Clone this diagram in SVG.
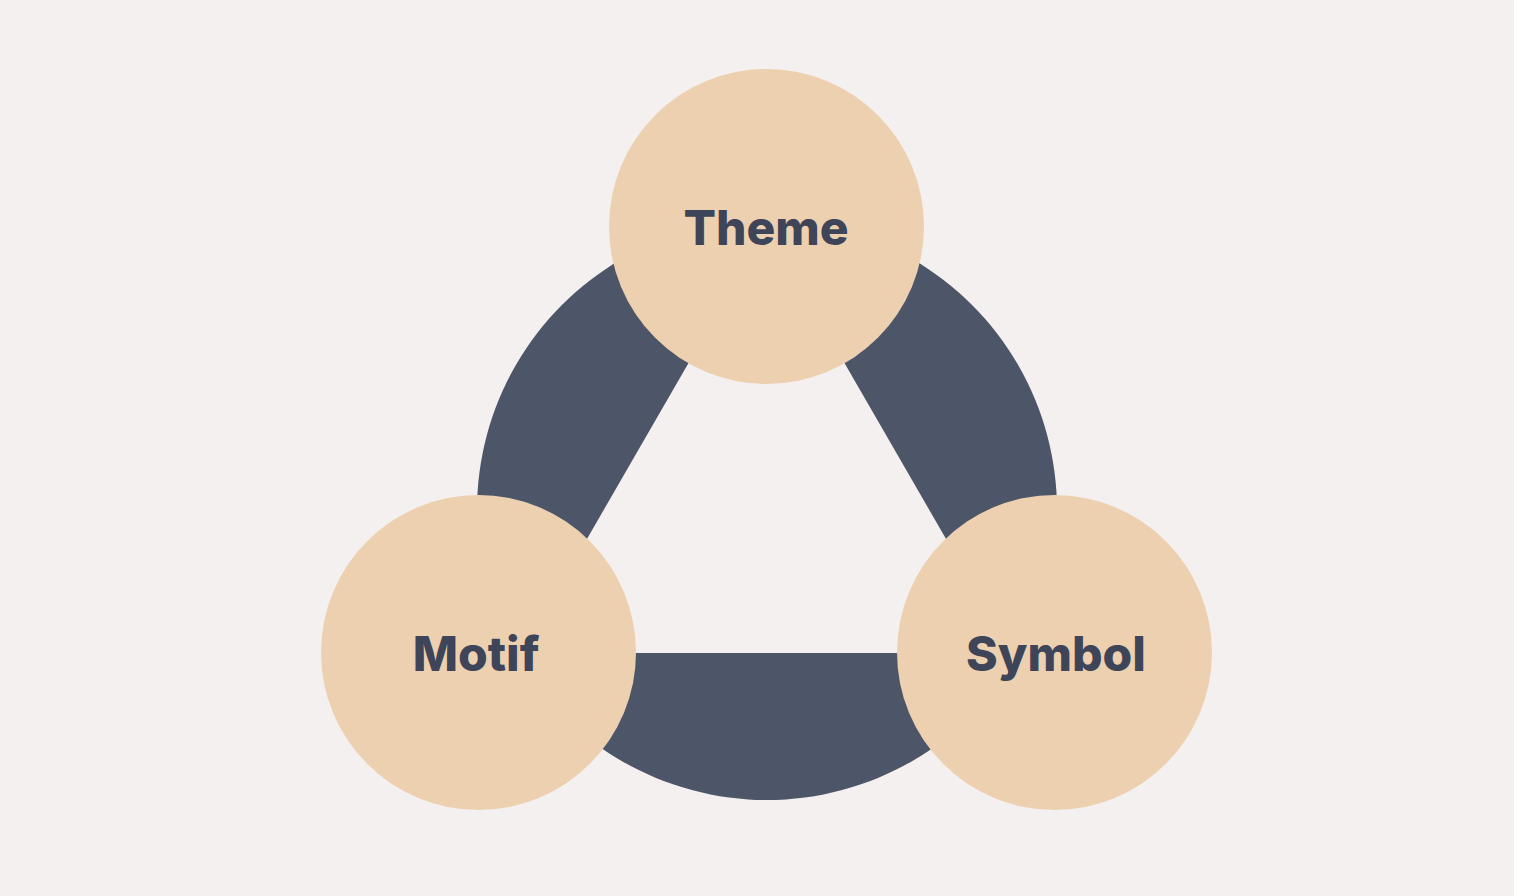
<svg xmlns="http://www.w3.org/2000/svg" width="1514" height="896" viewBox="0 0 1514 896">
<style>
.node{fill:#edd0b0}
.lbl{font-family:Inter,"Liberation Sans",sans-serif;font-weight:800;font-size:48px;fill:#3e4558;text-anchor:middle}
</style>
<rect width="1514" height="896" fill="#f4f0ef"/>
<g id="connectors">
<path fill="#4d5568" fill-rule="evenodd" d="M767 220 A290 290 0 1 1 766.99 220 Z M766.5 228 L1011.9 653 L521.1 653 Z"/>
</g>
<g id="theme"><circle class="node" cx="766.5" cy="226.5" r="157.5"/><text class="lbl" x="766" y="245">Theme</text></g>
<g id="motif"><circle class="node" cx="478.5" cy="652.5" r="157.5"/><text class="lbl" x="476" y="671">Motif</text></g>
<g id="symbol"><circle class="node" cx="1054.5" cy="652.5" r="157.5"/><text class="lbl" x="1056" y="671">Symbol</text></g>
</svg>
